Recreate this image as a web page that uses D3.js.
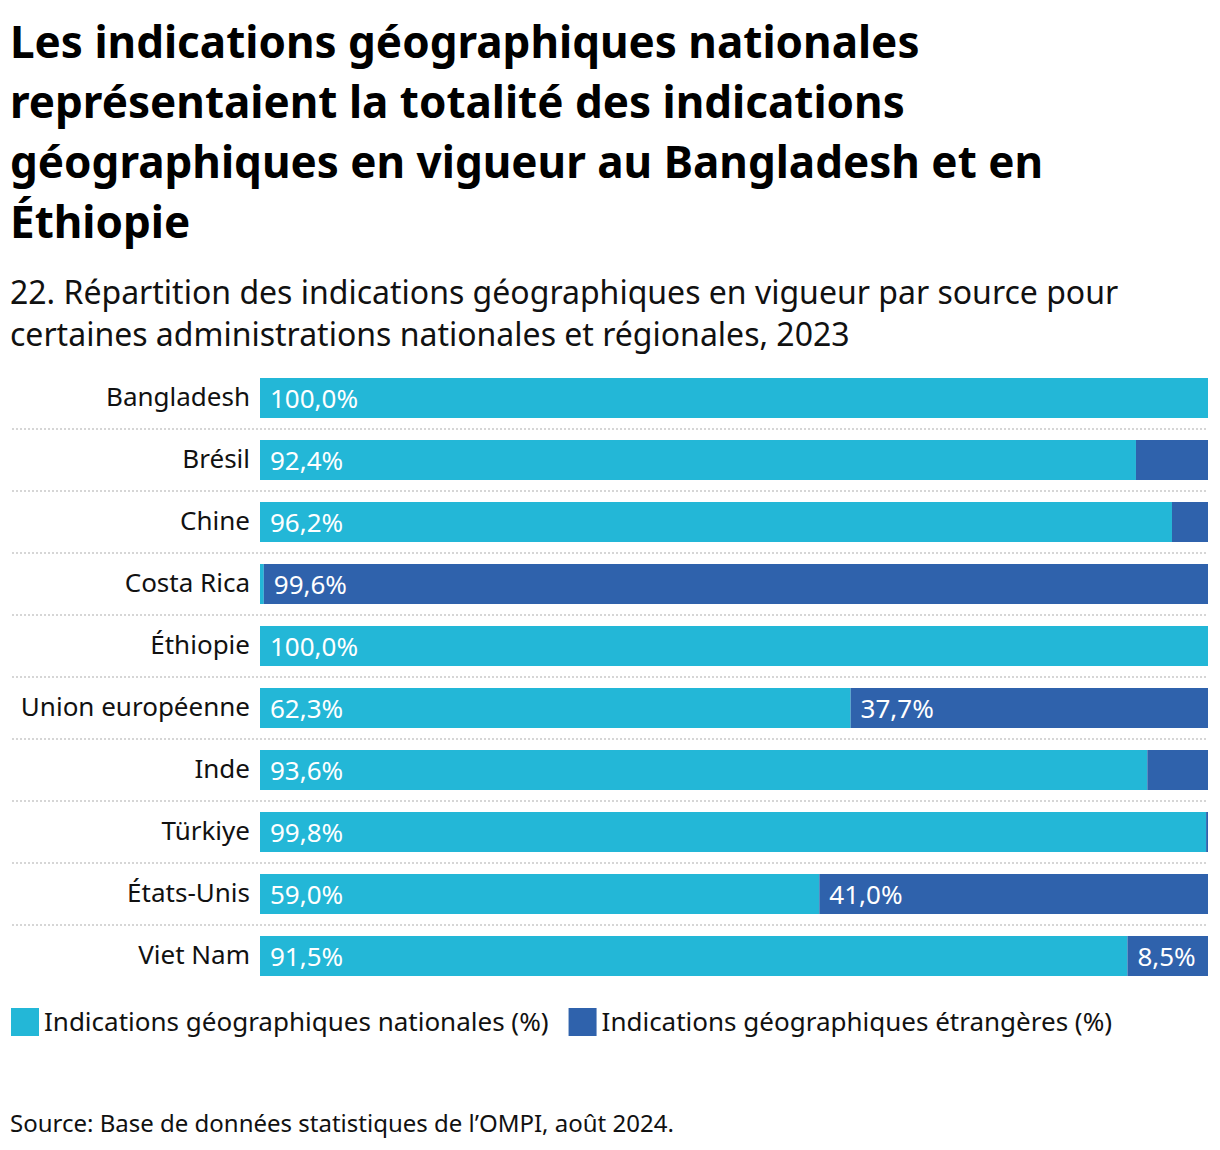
<!DOCTYPE html>
<html>
<head>
<meta charset="utf-8">
<script src="https://cdn.jsdelivr.net/npm/d3@7"></script>
<style>
  body { margin: 0; background: #fff; }
  svg { font-family: "Noto Sans", sans-serif; }
</style>
</head>
<body>
<div id="chart"></div>
<script>
// Data
const countries = ["Bangladesh", "Brésil", "Chine", "Costa Rica", "Éthiopie",
  "Union européenne", "Inde", "Türkiye", "États-Unis", "Viet Nam"];
const national = [100.0, 92.4, 96.2, 0.4, 100.0, 62.3, 93.6, 99.8, 59.0, 91.5];
const foreign = [0.0, 7.6, 3.8, 99.6, 0.0, 37.7, 6.4, 0.2, 41.0, 8.5];
const seriesNames = ["Indications géographiques nationales (%)", "Indications géographiques étrangères (%)"];
const colors = ["#23b7d7", "#2f62ac"];

const titleLines = [
  "Les indications géographiques nationales",
  "représentaient la totalité des indications",
  "géographiques en vigueur au Bangladesh et en",
  "Éthiopie"
];
const subtitleLines = [
  "22. Répartition des indications géographiques en vigueur par source pour",
  "certaines administrations nationales et régionales, 2023"
];
const source = "Source: Base de données statistiques de l’OMPI, août 2024.";

const W = 1220, H = 1150;
const svg = d3.select("#chart").append("svg")
  .attr("width", W)
  .attr("height", H);

// Title
svg.append("g").selectAll("text")
  .data(titleLines)
  .join("text")
  .attr("x", 10)
  .attr("y", (d, i) => 58 + i * 60)
  .style("font-size", "44px")
  .style("font-weight", "bold")
  .style("fill", "#000")
  .text(d => d);

// Subtitle
svg.append("g").selectAll("text")
  .data(subtitleLines)
  .join("text")
  .attr("x", 10)
  .attr("y", (d, i) => 304 + i * 42)
  .style("font-size", "32px")
  .style("fill", "#111")
  .text(d => d);

// Scales
const x = d3.scaleLinear().domain([0, 100]).range([260, 1208]);
const y = d3.scaleBand().domain(countries).range([367, 987])
  .paddingInner(22 / 62).paddingOuter(11 / 62);

const rows = countries.map((c, i) => ({ country: c, nat: national[i], fore: foreign[i] }));

// Dotted separators
svg.append("g").selectAll("line")
  .data(countries.slice(1))
  .join("line")
  .attr("x1", 12)
  .attr("x2", 1208)
  .attr("y1", d => y(d) - y.step() * y.paddingInner() / 2)
  .attr("y2", d => y(d) - y.step() * y.paddingInner() / 2)
  .attr("stroke", "#d6d6d6")
  .attr("stroke-width", 2)
  .attr("stroke-dasharray", "2,2");

// Category labels
svg.append("g").selectAll("text")
  .data(countries)
  .join("text")
  .attr("x", 250)
  .attr("y", d => y(d) + y.bandwidth() / 2)
  .attr("dy", "0.3em")
  .attr("text-anchor", "end")
  .style("font-size", "26px")
  .style("fill", "#111")
  .text(d => d);

const fmt = v => v.toFixed(1).replace(".", ",") + "%";

// National bars
svg.append("g").selectAll("rect")
  .data(rows)
  .join("rect")
  .attr("x", x(0))
  .attr("y", d => y(d.country))
  .attr("width", d => x(d.nat) - x(0))
  .attr("height", y.bandwidth())
  .attr("fill", colors[0]);

// Foreign bars
svg.append("g").selectAll("rect")
  .data(rows.filter(d => d.fore > 0))
  .join("rect")
  .attr("x", d => x(d.nat))
  .attr("y", d => y(d.country))
  .attr("width", d => x(d.nat + d.fore) - x(d.nat))
  .attr("height", y.bandwidth())
  .attr("fill", colors[1]);

// Value labels (only for segments wide enough)
svg.append("g").selectAll("text")
  .data(rows.filter(d => d.nat >= 8))
  .join("text")
  .attr("x", x(0) + 10)
  .attr("y", d => y(d.country) + y.bandwidth() / 2)
  .attr("dy", "0.38em")
  .style("font-size", "26px")
  .style("fill", "#fff")
  .text(d => fmt(d.nat));

svg.append("g").selectAll("text")
  .data(rows.filter(d => d.fore >= 8))
  .join("text")
  .attr("x", d => x(d.nat) + 10)
  .attr("y", d => y(d.country) + y.bandwidth() / 2)
  .attr("dy", "0.38em")
  .style("font-size", "26px")
  .style("fill", "#fff")
  .text(d => fmt(d.fore));

// Legend
const legend = svg.append("g").attr("transform", "translate(11,1008)");
let lx = 0;
seriesNames.forEach((name, i) => {
  const g = legend.append("g").attr("transform", `translate(${lx},0)`);
  g.append("rect")
    .attr("width", 28)
    .attr("height", 28)
    .attr("fill", colors[i]);
  const t = g.append("text")
    .attr("x", 33)
    .attr("y", 14)
    .attr("dy", "0.33em")
    .style("font-size", "26px")
    .style("fill", "#111")
    .text(name);
  lx += 33 + t.node().getComputedTextLength() + 20;
});

// Source
svg.append("text")
  .attr("x", 10)
  .attr("y", 1132)
  .style("font-size", "24px")
  .style("fill", "#111")
  .text(source);
</script>
</body>
</html>
